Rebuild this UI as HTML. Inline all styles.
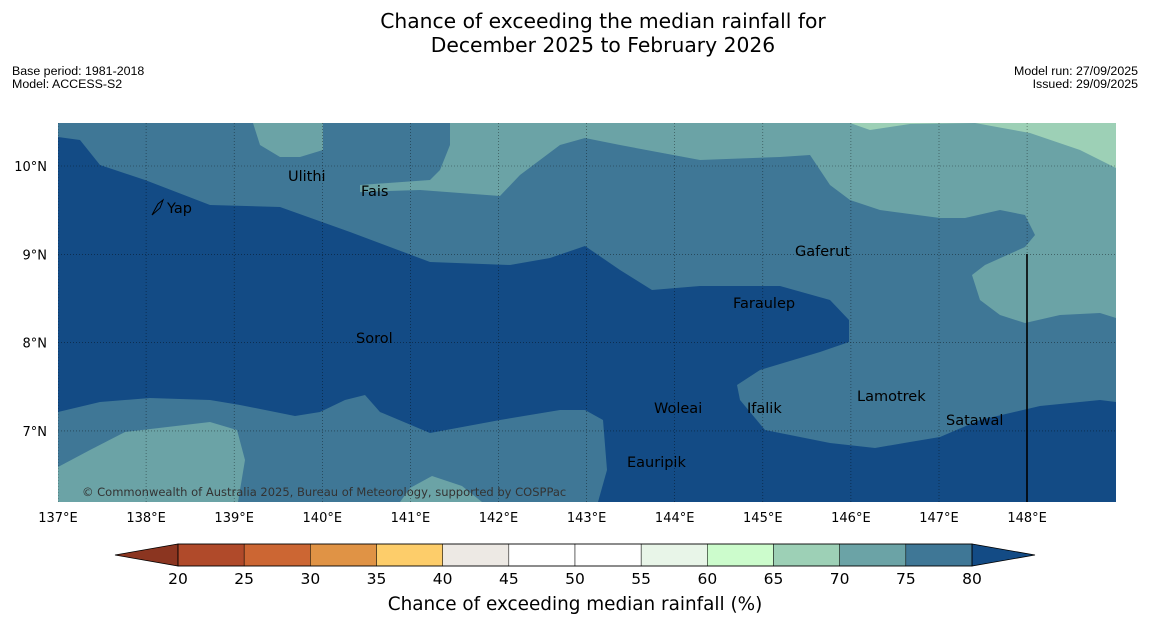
<!DOCTYPE html>
<html><head><meta charset="utf-8"><style>
body{margin:0;background:#fff;width:1150px;height:644px;overflow:hidden;font-family:"Liberation Sans","DejaVu Sans",sans-serif}
svg{position:absolute;left:0;top:0}
</style></head><body>
<svg width="1150" height="644" font-family="DejaVu Sans, Liberation Sans, sans-serif">
<text x="603" y="28" font-size="20.3" text-anchor="middle">Chance of exceeding the median rainfall for</text>
<text x="603" y="52" font-size="20.3" text-anchor="middle">December 2025 to February 2026</text>
<text x="12" y="75" font-size="12.4" font-family="Liberation Sans Narrow, Liberation Sans, sans-serif">Base period: 1981-2018</text>
<text x="12" y="88" font-size="12.4" font-family="Liberation Sans Narrow, Liberation Sans, sans-serif">Model: ACCESS-S2</text>
<text x="1138" y="75" font-size="12.4" font-family="Liberation Sans Narrow, Liberation Sans, sans-serif" text-anchor="end">Model run: 27/09/2025</text>
<text x="1138" y="88" font-size="12.4" font-family="Liberation Sans Narrow, Liberation Sans, sans-serif" text-anchor="end">Issued: 29/09/2025</text>
<defs><clipPath id="mc"><rect x="58" y="123" width="1058" height="379"/></clipPath></defs>
<g clip-path="url(#mc)">
<rect x="58" y="123" width="1058" height="379" fill="#3f7796"/>
<path fill="#134b85" d="M58,137 L80,140 L100,165 L145,180 L210,205 L280,207 L350,232 L430,262 L510,265 L550,258 L585,246 L620,270 L652,290 L700,286 L780,286 L830,300 L849,320 L849,342 L820,352 L760,370 L737,385 L740,400 L765,430 L830,443 L875,448 L910,442 L940,437 L980,420 L1040,406 L1100,400 L1116,402 L1116,502 L598,502 L607,470 L603,420 L585,410 L560,410 L500,420 L430,433 L380,412 L365,395 L345,400 L320,412 L295,416 L240,405 L210,400 L150,398 L100,402 L58,412Z"/>
<path fill="#6ba3a6" d="M58,467 L90,450 L125,432 L210,422 L237,430 L245,460 L238,502 L58,502Z"/>
<path fill="#6ba3a6" d="M400,502 L410,488 L432,476 L462,486 L482,502Z"/>
<path fill="#6ba3a6" d="M253,123 L260,145 L280,157 L300,157 L323,150 L323,123Z"/>
<path fill="#6ba3a6" d="M450,123 L450,145 L440,170 L430,180 L360,185 L360,192 L420,190 L500,196 L520,175 L560,145 L585,138 L620,145 L700,160 L780,157 L810,155 L830,185 L850,200 L880,210 L940,218 L965,218 L1000,210 L1025,215 L1035,235 L1025,247 L985,265 L972,275 L980,300 L1000,315 L1025,323 L1060,315 L1100,313 L1116,318 L1116,123Z"/>
<path fill="#9dd0b6" d="M850,123 L870,130 L910,124 L975,123 L1030,133 L1080,150 L1116,168 L1116,123Z"/>
<g id="grid" stroke="#000" stroke-width="0.6" stroke-dasharray="1,2" opacity="0.6"></g>
<line x1="1027" y1="254" x2="1027" y2="502" stroke="#000" stroke-width="1.6"/>
<text x="82" y="496" font-size="11.5" fill="#333">© Commonwealth of Australia 2025, Bureau of Meteorology, supported by COSPPac</text>
</g>
<g font-size="14.5" fill="#000">
<path d="M152,215 L158,204 L163,200 L160,208 Z" fill="none" stroke="#000"/>
<text x="167" y="213">Yap</text>
<text x="288" y="181">Ulithi</text>
<text x="361" y="196">Fais</text>
<text x="795" y="256">Gaferut</text>
<text x="733" y="308">Faraulep</text>
<text x="356" y="343">Sorol</text>
<text x="857" y="401">Lamotrek</text>
<text x="654" y="413">Woleai</text>
<text x="747" y="413">Ifalik</text>
<text x="946" y="425">Satawal</text>
<text x="627" y="467">Eauripik</text>
</g>
<g id="axes" font-size="13"></g>
<g id="cbar"></g>
<text x="575" y="610" font-size="18.4" text-anchor="middle">Chance of exceeding median rainfall (%)</text>
</svg>
<script>
const lons=[137,138,139,140,141,142,143,144,145,146,147,148];
const lats=[10,9,8,7];
const levels=[20,25,30,35,40,45,50,55,60,65,70,75,80];
const binColors=["#b04a2a","#cc6633","#e09345","#fdcd6a","#ede9e4","#ffffff","#ffffff","#e8f5e8","#ccfccc","#9dd0b6","#6ba3a6","#3f7796"];
const NS="http://www.w3.org/2000/svg";
const xL=l=>58+(l-137)*88.1, yL=l=>166+(10-l)*88.3;
const xC=v=>178+(v-20)*(794/60);
function mk(t,a,p){const e=document.createElementNS(NS,t);for(const k in a)e.setAttribute(k,a[k]);p.appendChild(e);return e;}
const g=document.getElementById('grid'),ax=document.getElementById('axes'),cb=document.getElementById('cbar');
lons.forEach(l=>{const x=xL(l);
 const ln=mk('line',{x1:x,y1:123,x2:x,y2:502},g);
 
 
 const t=mk('text',{x:x,y:522,'text-anchor':'middle'},ax);t.textContent=l+'°E';
 
 });
lats.forEach(l=>{const y=yL(l);
 const ln=mk('line',{x1:58,y1:y,x2:1116,y2:y},g);
 
 
 const t=mk('text',{x:47,y:y+5,'text-anchor':'end'},ax);t.textContent=l+'°N';
 
 });
const y0=544,y1=566;
const lt=mk('polygon',{points:`115,555 ${xC(20)},${y0} ${xC(20)},${y1}`,fill:'#8b3520',stroke:'#000','stroke-width':0.8},cb);


const rt=mk('polygon',{points:`1035,555 ${xC(80)},${y0} ${xC(80)},${y1}`,fill:'#134b85',stroke:'#000','stroke-width':0.8},cb);


binColors.forEach((c,i)=>{const r=mk('rect',{x:xC(levels[i]),y:y0,width:xC(levels[i+1])-xC(levels[i]),height:y1-y0,fill:c,stroke:'#000','stroke-width':0.5},cb);
 
 });
mk('rect',{x:xC(20),y:y0,width:xC(80)-xC(20),height:y1-y0,fill:'none',stroke:'#000','stroke-width':0.8},cb);
levels.forEach(v=>{const t=mk('text',{x:xC(v),y:584,'text-anchor':'middle','font-size':15.5},cb);t.textContent=v;
 
 });
</script>
</body></html>
